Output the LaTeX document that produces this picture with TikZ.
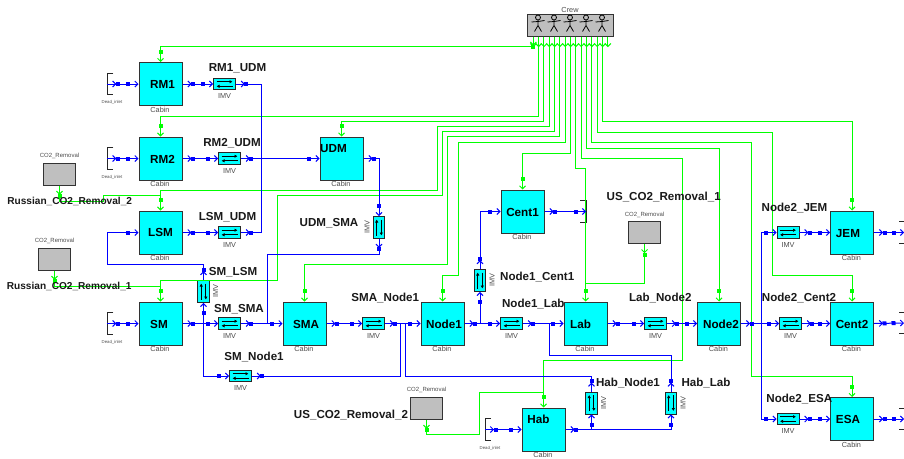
\documentclass[tikz,border=0pt]{standalone}
\usepackage{fontspec}
\setmainfont{Liberation Sans}
\usetikzlibrary{arrows.meta,decorations.markings}

\definecolor{aqua}{RGB}{0,255,255}
\definecolor{lime}{RGB}{0,255,0}
\definecolor{pure}{RGB}{0,0,255}

\tikzset{
  pipe/.style={pure,line width=1pt},
  air/.style={lime,line width=1pt},
  outmark/.style={postaction={decorate,decoration={markings,
      mark=at position 9pt with {\arrow{>}},
      mark=at position 10.5pt with {\fill (-2pt,-2pt) rectangle (2pt,2pt);}}}},
  inmark/.style={postaction={decorate,decoration={markings,
      mark=at position -10.5pt with {\fill (-2pt,-2pt) rectangle (2pt,2pt);}}}},
  flow/.style={outmark,inmark,->},
  cabin/.style={draw=black!80,line width=1pt,fill=aqua,minimum size=43pt,inner sep=0pt},
  imv/.style={draw=black!85,line width=.8pt,fill=aqua,minimum width=22pt,minimum height=11.5pt,inner sep=0pt},
  vane/.style={black,line width=.8pt,-{Latex[length=3pt,width=3.5pt]}},
  store/.style={draw=black!80,line width=1pt,fill=black!25,inner sep=0pt},
  rack/.style={black!85,line width=.8pt},
  note/.style={text=black!70,inner sep=0pt,font=\fontsize{7.3}{8}\selectfont},
  tiny/.style={text=black!70,inner sep=0pt,font=\fontsize{4.3}{5}\selectfont},
  small/.style={text=black!70,inner sep=0pt,font=\fontsize{6}{7}\selectfont},
  tag/.style={text=black!90,inner sep=0pt,font=\bfseries\fontsize{11.6}{13}\selectfont},
  widetag/.style={text=black!90,inner sep=0pt,font=\bfseries\fontsize{10.1}{12}\selectfont},
  inner/.style={text=black,inner sep=0pt,font=\bfseries\fontsize{11.7}{13}\selectfont}
}

\begin{document}
\begin{tikzpicture}[x=1pt,y=-1pt,>={Straight Barb[length=3pt,width=6pt]}]
  \useasboundingbox (0,0) rectangle (904,458);

  % Cabins
  \foreach \n/\x/\y/\dx/\dy/\t in {
      rm1/160.5/84/2/0.5/RM1, rm2/160.5/158.5/2/1/RM2, lsm/160.5/232.5/0/0/LSM,
      sm/160.5/323.5/-1.5/0.5/SM, udm/341.5/158.5/-8/-10/UDM, sma/304.5/323.5/1.5/0.5/SMA,
      node1/442.5/323.5/1.5/0.5/Node1, cent1/522.5/211.5/0/0.5/Cent1, lab/585.5/323.5/-5/0.5/Lab,
      node2/719/323.5/2/0.5/Node2, hab/543.5/429.5/-5/-10/Hab, jem/852/232.5/-4/1/JEM,
      cent2/852/323.5/0/0.5/Cent2, esa/852/419/-4/0.5/ESA} {
    \node[cabin] (\n) at (\x,\y) {};
    \node[inner] (\n-text) at (\x+\dx,\y+\dy) {\t};
    \node[note] (\n-cabin) at (\x-0.5,\y+25.7) {Cabin};
  }

  % Valves
  \foreach \v/\a/\x/\y/\lx/\ly in {
      rm1udm/0/224.5/84/0/12, rm2udm/0/229.5/158.5/0/12, lsmudm/0/229.5/232.5/0/12,
      smlsm/90/203.5/291.5/12/0, smsma/0/229.5/323.5/0/12, smnode1/0/240.5/376/0/12,
      udmsma/90/379/227.5/-12/0, smanode1/0/373.5/323.5/0/12, node1lab/0/511.5/323.5/0/12,
      labnode2/0/655.5/323.5/0/12, node1cent1/90/480/280.5/12/0, habnode1/90/591.5/403/12/0,
      hablab/90/671/403/12/0, node2jem/0/788/232.5/0/12, node2cent2/0/790.5/323.5/0/12,
      node2esa/0/788/419/0/12} {
    \node[imv,rotate=\a] (\v) at (\x,\y) {};
    \node[note,rotate=\a] (\v-text) at (\x+\lx,\y+\ly) {IMV};
    \draw[vane,shift={(\v.center)},rotate=\a] (-8pt,2.3pt) -- (8pt,2.3pt);
    \draw[vane,shift={(\v.center)},rotate=\a] (8pt,-2.3pt) -- (-8pt,-2.3pt);
  }

  % CO2 removal boxes
  \foreach \n/\x/\y in {co2rtwo/59.5/174.3, co2rone/54.5/259.3, co2utwo/426.5/408.3, co2uone/644.5/232.7} {
    \node[store,minimum width=32.4pt,minimum height=22pt] (\n) at (\x,\y) {};
    \node[small] (\n-text) at (\x,\y-18) {CO2\_Removal};
  }

  % Crew
  \node[store,minimum width=85.6pt,minimum height=22.4pt] (crew) at (570.5,25.5) {};
  \node[note] (crew-text) at (570,10) {Crew};
  \foreach \p in {538,554,570,586,602} {
    \draw[black,line width=.8pt] (\p,17.5) circle[radius=2.5pt];
    \draw[black,line width=.8pt] (\p,20) -- (\p,25.5) (\p-6.5,22) -- (\p,21.5) -- (\p+6.5,20.5)
      (\p-3.5,31.5) -- (\p,25.5) -- (\p+3.5,31.5);
  }
  \foreach \i in {1,...,15} {
    \coordinate (c\i) at (533.3+5.33*\i-5.33,36.7);
    \draw[air,->] (c\i) -- +(0,10.5);
  }

  % Dead inlets
  \foreach \n/\x/\y/\lx in {rm1/107.3/84/112, rm2/107.3/158.5/112, sm/107.3/323.5/112, hab/485/429.5/490} {
    \coordinate (\n-in) at (\x,\y);
    \draw[rack] (\x+6,\y-10.7) -- (\x,\y-10.7) -- (\x,\y+10.7) -- (\x+6,\y+10.7);
    \node[tiny] (\n-dead) at (\lx,\y+18.5) {Dead\_inlet};
  }
  \coordinate (cent1-out) at (586,211.5);
  \draw[rack] (580,200.8) -- (586,200.8) -- (586,222.2) -- (580,222.2);
  \foreach \n/\y in {jem/232.5,cent2/323,esa/419} {
    \coordinate (\n-out) at (904,\y);
    \draw[rack] (899,\y-10.7) -- (904,\y-10.7) (899,\y+10.7) -- (904,\y+10.7);
  }

  % Junctions
  \coordinate (jud) at (261.5,158.5);
  \coordinate (jsm) at (203.5,323.5);
  \coordinate (jsma) at (267,323.5);
  \coordinate (jna) at (400,323.5);
  \coordinate (jnb) at (405.5,323.5);
  \coordinate (jnc) at (480,323.5);
  \coordinate (jlab) at (549,323.5);
  \coordinate (jnd) at (761.5,323.5);
  \coordinate (jha) at (591.5,429.5);

  % Air from the crew
  \draw[air,outmark,inmark,->] (c1) -- (c1 |- 0,46.5) -| (rm1.north);
  \draw[air,inmark,->] (c2) -- (c2 |- 0,116) -| (rm2.north);
  \draw[air,inmark,->] (c3) -- (c3 |- 0,121.5) -| (udm.north);
  \draw[air,inmark,->] (c4) -- (c4 |- 0,126.5) -| (437.3,190.5) -| (lsm.north);
  \draw[air,inmark,->] (c5) -- (c5 |- 0,131.5) -| (442.7,195.5) -| (277.3,280.7) -| (sm.north);
  \draw[air,inmark,->] (c6) -- (c6 |- 0,136.5) -| (447.7,264.7) -| (sma.north);
  \draw[air,inmark,->] (c7) -- (c7 |- 0,142) -| (458.3,275.3) -| (node1.north);
  \draw[air,inmark,->] (c8) -- (c8 |- 0,153) -| (cent1.north);
  \draw[air,inmark,->] (c9) -- (c9 |- 0,168) -| (lab.north);
  \draw[air,inmark,->] (c10) -- (c10 |- 0,158.5) -| (682,360) -| (hab.north);
  \draw[air,inmark,->] (c11) -- (c11 |- 0,148) -| (node2.north);
  \draw[air,inmark,->] (c12) -- (c12 |- 0,142.5) -| (751,376.3) -| (esa.north);
  \draw[air,inmark,->] (c13) -- (c13 |- 0,132) -| (772,275) -| (cent2.north);
  \draw[air,inmark,->] (c14) -- (c14 |- 0,121.5) -| (jem.north);

  % Air from the CO2 boxes
  \draw[air,outmark] (co2rtwo.south) |- (103.7,201) |- (lsm.north |- 0,195.5);
  \draw[air,outmark] (co2rone.south) |- (sm.north |- 0,286);
  \draw[air,outmark] (co2uone.south) |- (lab.north |- 0,283.3);
  \draw[air,outmark] (co2utwo.south) |- (479.3,434.7) |- (hab.north |- 0,392.3);

  % Russian side
  \draw[pipe,flow] (rm1-in) -- (rm1.west);
  \draw[pipe,flow] (rm2-in) -- (rm2.west);
  \draw[pipe,flow] (sm-in) -- (sm.west);
  \draw[pipe,flow] (rm1.east) -- (rm1udm.west);
  \draw[pipe,flow] (rm2.east) -- (rm2udm.west);
  \draw[pipe,flow] (lsm.east) -- (lsmudm.west);
  \draw[pipe,outmark] (rm1udm.east) -| (jud);
  \draw[pipe,outmark] (lsmudm.east) -| (jud);
  \draw[pipe,flow] (rm2udm.east) -- (udm.west);
  \draw[pipe,flow] (udm.east) -| (udmsma.east);
  \draw[pipe,outmark] (udmsma.west) -- ++(0,15.5) -| (jsma);
  \draw[pipe,flow] (smlsm.east) |- (107.5,264.7) |- (lsm.west);
  \draw[pipe,inmark,->] (jsm) -- (smlsm.west);
  \draw[pipe,inmark,->] (jsm) |- (smnode1.west);
  \draw[pipe,flow] (sm.east) -- (smsma.west);
  \draw[pipe,flow] (smsma.east) -- (sma.west);
  \draw[pipe,flow] (sma.east) -- (smanode1.west);
  \draw[pipe,flow] (smanode1.east) -- (node1.west);
  \draw[pipe,outmark] (smnode1.east) -| (jna);

  % US side
  \draw[pipe,flow] (node1.east) -- (node1lab.west);
  \draw[pipe,inmark,->] (jnc) -- (node1cent1.west);
  \draw[pipe,flow] (node1cent1.east) |- (cent1.west);
  \draw[pipe,flow] (cent1.east) -- (cent1-out);
  \draw[pipe,flow] (node1lab.east) -- (lab.west);
  \draw[pipe,flow] (lab.east) -- (labnode2.west);
  \draw[pipe,flow] (labnode2.east) -- (node2.west);
  \draw[pipe,flow] (node2.east) -- (node2cent2.west);
  \draw[pipe,flow] (node2cent2.east) -- (cent2.west);
  \draw[pipe,inmark,->] (jnd) |- (node2jem.west);
  \draw[pipe,inmark,->] (jnd) |- (node2esa.west);
  \draw[pipe,flow] (node2jem.east) -- (jem.west);
  \draw[pipe,flow] (node2esa.east) -- (esa.west);
  \draw[pipe,flow] (jem.east) -- (jem-out);
  \draw[pipe,flow] (cent2.east) -- (cent2-out);
  \draw[pipe,flow] (esa.east) -- (esa-out);

  % Hab
  \draw[pipe,flow] (hab-in) -- (hab.west);
  \draw[pipe,flow] (hab.east) -| (hablab.west);
  \draw[pipe,inmark,->] (jha) -- (habnode1.west);
  \draw[pipe,outmark] (habnode1.east) -- (habnode1.east |- 0,376.3) -| (jnb);
  \draw[pipe,outmark] (hablab.east) -- (hablab.east |- 0,355) -| (jlab);

  % Labels
  \foreach \x/\y/\t [count=\i] in {
      237.5/68.5/RM1\_UDM, 232/143/RM2\_UDM, 227.5/217/LSM\_UDM, 329/223/UDM\_SMA,
      233/271.7/SM\_LSM, 239/309/SM\_SMA, 254/357/SM\_Node1, 385.3/297.7/SMA\_Node1,
      537.2/276.7/Node1\_Cent1, 533.3/304/Node1\_Lab, 660.3/297.7/Lab\_Node2,
      628/382.7/Hab\_Node1, 706/382.7/Hab\_Lab, 794.5/207.7/Node2\_JEM,
      799/297.7/Node2\_Cent2, 799.3/398.7/Node2\_ESA, 663.7/196.7/US\_CO2\_Removal\_1,
      351/414.7/US\_CO2\_Removal\_2} {
    \node[tag] (tag\i) at (\x,\y) {\t};
  }
  \node[widetag] (ruslabtwo) at (69.7,201) {Russian\_CO2\_Removal\_2};
  \node[widetag] (ruslabone) at (69.2,286.3) {Russian\_CO2\_Removal\_1};
\end{tikzpicture}
\end{document}
